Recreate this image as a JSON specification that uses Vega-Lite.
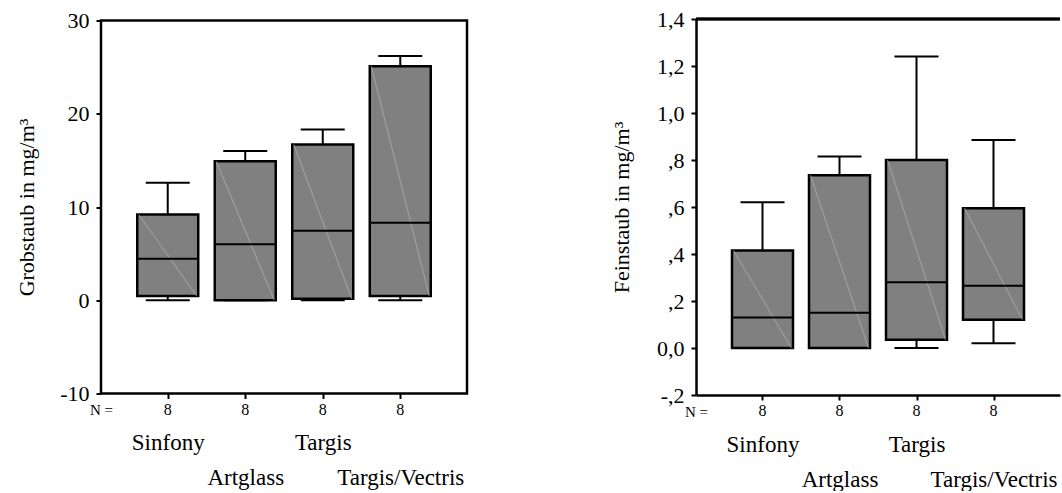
{
  "$schema": "https://vega.github.io/schema/vega-lite/v6.json",
  "background": "white",
  "padding": {"left": 14, "top": 8, "right": 0, "bottom": 0},
  "autosize": {"type": "pad"},
  "spacing": 229,
  "bounds": "flush",
  "center": true,
  "datasets": {
    "grob": [
      {"cat": "Sinfony", "lower": 0, "q1": 0.45, "median": 4.45, "q3": 9.2, "upper": 12.6, "n": 8},
      {"cat": "Artglass", "lower": 0, "q1": 0, "median": 6.0, "q3": 14.9, "upper": 16.0, "n": 8},
      {"cat": "Targis", "lower": 0, "q1": 0.15, "median": 7.45, "q3": 16.7, "upper": 18.3, "n": 8},
      {"cat": "Targis/Vectris", "lower": 0, "q1": 0.45, "median": 8.3, "q3": 25.1, "upper": 26.2, "n": 8}
    ],
    "fein": [
      {"cat": "Sinfony", "lower": 0, "q1": 0, "median": 0.13, "q3": 0.415, "upper": 0.62, "n": 8},
      {"cat": "Artglass", "lower": 0, "q1": 0, "median": 0.15, "q3": 0.735, "upper": 0.815, "n": 8},
      {"cat": "Targis", "lower": 0, "q1": 0.035, "median": 0.28, "q3": 0.8, "upper": 1.24, "n": 8},
      {"cat": "Targis/Vectris", "lower": 0.02, "q1": 0.12, "median": 0.265, "q3": 0.595, "upper": 0.885, "n": 8}
    ]
  },
  "hconcat": [
    {
      "width": 366,
      "height": 373,
      "data": {"name": "grob"},
      "encoding": {
        "x": {
          "field": "cat", "type": "nominal", "sort": null,
          "scale": {"type": "point", "padding": 0.861},
          "axis": {
            "title": "N =", "titleFont": "Liberation Serif", "titleFontSize": 15, "titleAnchor": "start", "titleAlign": "center",
            "titleX": 0, "titleY": 16, "titleBaseline": "middle", "titlePadding": 0,
            "domain": false, "ticks": true, "tickSize": 5, "tickWidth": 2,
            "labelExpr": "datum.value == 'Sinfony' || datum.value == 'Targis' ? [datum.value, ''] : ['', datum.value]",
            "labelPadding": 33, "labelLineHeight": 35, "labelBaseline": "top", "labelFontSize": 23, "labelFont": "Liberation Serif",
            "labelAngle": 0, "labelOverlap": false
          }
        }
      },
      "layer": [
        {
          "mark": {"type": "rule", "strokeWidth": 2, "color": "black"},
          "encoding": {
            "y": {"field": "lower", "type": "quantitative", "title": "Grobstaub in mg/m³",
              "scale": {"domain": [-10, 30], "nice": false, "zero": false},
              "axis": {"values": [-10, 0, 10, 20, 30], "domain": false, "tickSize": 5, "tickWidth": 2,
                "labelExpr": "datum.value + ''",
                "labelFont": "Liberation Serif", "titleFont": "Liberation Serif",
                "labelPadding": 7, "labelFontSize": 22, "labelFlush": false, "titlePadding": 21, "titleFontSize": 22}},
            "y2": {"field": "upper"}
          }
        },
        {
          "mark": {"type": "tick", "size": 44, "thickness": 2, "color": "black", "opacity": 1},
          "encoding": {"y": {"field": "upper", "type": "quantitative", "title": "Grobstaub in mg/m³"}}
        },
        {
          "mark": {"type": "tick", "size": 44, "thickness": 2, "color": "black", "opacity": 1},
          "encoding": {"y": {"field": "lower", "type": "quantitative", "title": "Grobstaub in mg/m³"}}
        },
        {
          "mark": {"type": "bar", "size": 61, "fill": "#808080", "stroke": "black", "strokeWidth": 2.5},
          "encoding": {"y": {"field": "q1", "type": "quantitative", "title": "Grobstaub in mg/m³"}, "y2": {"field": "q3"}}
        },
        {
          "mark": {"type": "rule", "color": "#b4b4b4", "strokeWidth": 0.7, "xOffset": -29, "x2Offset": 29},
          "encoding": {"x2": {"field": "cat"}, "y": {"field": "q3", "type": "quantitative", "title": "Grobstaub in mg/m³"}, "y2": {"field": "q1"}}
        },
        {
          "mark": {"type": "tick", "size": 61, "thickness": 2, "color": "black", "opacity": 1},
          "encoding": {"y": {"field": "median", "type": "quantitative", "title": "Grobstaub in mg/m³"}}
        },
        {
          "mark": {"type": "text", "fontSize": 16, "dy": 16, "baseline": "middle", "color": "black", "font": "Liberation Serif"},
          "encoding": {"y": {"datum": -10, "type": "quantitative", "title": "Grobstaub in mg/m³"}, "text": {"field": "n"}}
        }
      ]
    },
    {
      "width": 364,
      "height": 376,
      "view": {"stroke": null},
      "data": {"name": "fein"},
      "encoding": {
        "x": {
          "field": "cat", "type": "nominal", "sort": null,
          "scale": {"type": "point", "padding": 0.8636},
          "axis": {
            "title": "N =", "titleFont": "Liberation Serif", "titleFontSize": 15, "titleAnchor": "start", "titleAlign": "center",
            "titleX": 0, "titleY": 16, "titleBaseline": "middle", "titlePadding": 0,
            "domain": true, "domainWidth": 2.5, "ticks": true, "tickSize": 5, "tickWidth": 2,
            "labelExpr": "datum.value == 'Sinfony' || datum.value == 'Targis' ? [datum.value, ''] : ['', datum.value]",
            "labelPadding": 33, "labelLineHeight": 35, "labelBaseline": "top", "labelFontSize": 23, "labelFont": "Liberation Serif",
            "labelAngle": 0, "labelOverlap": false
          }
        }
      },
      "layer": [
        {
          "mark": {"type": "rule", "strokeWidth": 2.5, "color": "black"},
          "encoding": {"x": null, "y": {"datum": 1.4, "type": "quantitative", "title": "Feinstaub in mg/m³"}}
        },
        {
          "mark": {"type": "rule", "strokeWidth": 2, "color": "black"},
          "encoding": {
            "y": {"field": "lower", "type": "quantitative", "title": "Feinstaub in mg/m³",
              "scale": {"domain": [-0.2, 1.4], "nice": false, "zero": false},
              "axis": {"values": [-0.2, 0, 0.2, 0.4, 0.6, 0.8, 1.0, 1.2, 1.4], "domain": true, "domainWidth": 2.5, "tickSize": 5, "tickWidth": 2,
                "labelFont": "Liberation Serif", "titleFont": "Liberation Serif",
                "labelPadding": 7, "labelFontSize": 22, "labelFlush": false, "titlePadding": 23, "titleFontSize": 22,
                "labelExpr": "abs(datum.value) < 1e-9 ? '0,0' : (datum.value < 0 ? '-' : '') + replace(replace(format(abs(datum.value), '.1f'), '0.', '.'), '.', ',')"}},
            "y2": {"field": "upper"}
          }
        },
        {
          "mark": {"type": "tick", "size": 44, "thickness": 2, "color": "black", "opacity": 1},
          "encoding": {"y": {"field": "upper", "type": "quantitative", "title": "Feinstaub in mg/m³"}}
        },
        {
          "mark": {"type": "tick", "size": 44, "thickness": 2, "color": "black", "opacity": 1},
          "encoding": {"y": {"field": "lower", "type": "quantitative", "title": "Feinstaub in mg/m³"}}
        },
        {
          "mark": {"type": "bar", "size": 61, "fill": "#808080", "stroke": "black", "strokeWidth": 2.5},
          "encoding": {"y": {"field": "q1", "type": "quantitative", "title": "Feinstaub in mg/m³"}, "y2": {"field": "q3"}}
        },
        {
          "mark": {"type": "rule", "color": "#b4b4b4", "strokeWidth": 0.7, "xOffset": -29, "x2Offset": 29},
          "encoding": {"x2": {"field": "cat"}, "y": {"field": "q3", "type": "quantitative", "title": "Feinstaub in mg/m³"}, "y2": {"field": "q1"}}
        },
        {
          "mark": {"type": "tick", "size": 61, "thickness": 2, "color": "black", "opacity": 1},
          "encoding": {"y": {"field": "median", "type": "quantitative", "title": "Feinstaub in mg/m³"}}
        },
        {
          "mark": {"type": "text", "fontSize": 16, "dy": 16, "baseline": "middle", "color": "black", "font": "Liberation Serif"},
          "encoding": {"y": {"datum": -0.2, "type": "quantitative", "title": "Feinstaub in mg/m³"}, "text": {"field": "n"}}
        }
      ]
    }
  ],
  "config": {
    "font": "Liberation Serif",
    "view": {"stroke": "black", "strokeWidth": 2.5},
    "axis": {
      "labelFont": "Liberation Serif", "titleFont": "Liberation Serif",
      "labelColor": "black", "titleColor": "black", "tickColor": "black", "domainColor": "black",
      "grid": false, "titleFontWeight": "normal"
    },
    "text": {"font": "Liberation Serif"}
  }
}
